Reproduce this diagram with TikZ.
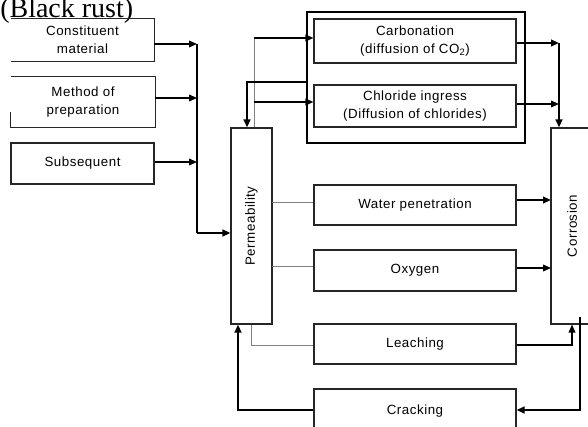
\documentclass[tikz,border=0pt]{standalone}
\usepackage{fontspec}
\setmainfont{Liberation Sans}[LetterSpace=4]
\newfontfamily\serifrm{Liberation Serif}
\usetikzlibrary{arrows.meta}
\begin{document}
\begin{tikzpicture}[x=0.75pt,y=-0.75pt,
  txt/.style={font=\fontsize{10}{13.5}\selectfont},
  box/.style={draw=black!85,line width=0.8pt,minimum width=#1,inner sep=0pt,align=center,txt},
  box/.default={202*0.75pt},
  plainbox/.style={inner sep=0pt,align=center,txt},
  vbox/.style={draw=black!85,line width=0.8pt,inner sep=0pt,minimum width=196*0.75pt,
    minimum height=#1,rotate=90,txt},
  arr/.style={line width=1.1pt,-{Triangle[length=6pt,width=5pt]}},
  thickarr/.style={line width=1.9pt,-{Triangle[length=6pt,width=5pt]}},
  bus/.style={line width=0.8pt},
  gline/.style={draw=black!50,line width=0.75pt},
  edge/.style={draw=black!85,line width=0.8pt}]
\useasboundingbox (0,0) rectangle (588,427);

% title (cut off at the top, as in the reference)
\node[font=\serifrm\fontsize{21}{24}\selectfont,anchor=base west,inner sep=0pt] (title) at (0,18) {(Black rust)};

% left input boxes
\node[plainbox,minimum width=143*0.75pt,minimum height=42*0.75pt] (const) at (82.5,40) {Constituent\\material};
\draw[edge] (const.north west) -- (const.north east) -- (const.south east) -- (const.south west);
\node[plainbox,minimum width=144*0.75pt,minimum height=50*0.75pt] (method) at (83,102) {Method of\\preparation};
\draw[edge] (method.north west) -- (method.north east) -- (method.south east) -- (method.south west) -- ++(0,-15);
\node[box=143*0.75pt,minimum height=41*0.75pt] (subseq) at (82.5,163.5) {Subsequent};

% permeability and corrosion (rotated: east = top, west = bottom, north = left)
\node[vbox=41*0.75pt] (perm) at (251.5,226) {Permeability};
\node[vbox=42*0.75pt] (corr) at (572,226) {Corrosion};

% group box
\node[draw=black,line width=0.8pt,minimum width=218*0.75pt,minimum height=131*0.75pt,inner sep=0pt] (outer) at (416,77.5) {};
\node[box,minimum height=44*0.75pt] (carb) at (415,41) {Carbonation\\(diffusion of CO\textsubscript{2})};
\node[box,minimum height=42*0.75pt] (chlor) at (415,106) {Chloride ingress\\(Diffusion of chlorides)};

% middle boxes
\node[box,minimum height=40*0.75pt] (water) at (415,205) {Water penetration};
\node[box,minimum height=41*0.75pt] (oxygen) at (415,270.5) {Oxygen};
\node[box,minimum height=40*0.75pt] (leach) at (415,344) {Leaching};
\node[box,minimum height=44*0.75pt] (crack) at (415,411) {Cracking};

% inputs to permeability
\coordinate (b1) at (197,44);
\coordinate (b2) at (197,98);
\coordinate (b3) at (197,162);
\coordinate (b4) at (197,233);
\draw[arr] (const.east |- b1) -- (b1);
\draw[arr] (method.east |- b2) -- (b2);
\draw[arr] (subseq.east |- b3) -- (b3);
\draw[bus] (b1) -- (b4);
\draw[thickarr] (b4) -- (b4 -| perm.north);

% permeability to carbonation / chloride
\coordinate (t1) at (254,38);
\coordinate (t2) at (254,102);
\draw[gline] (t1) -- (t1 |- perm.east);
\draw[arr] (t1) -- (t1 -| carb.west);
\draw[arr] (t2) -- (t2 -| chlor.west);

% group back to permeability
\coordinate (g1) at (247,82);
\draw[thickarr] (g1 -| outer.west) -- (g1) -- (g1 |- perm.east);

% group to corrosion
\coordinate (r1) at (559,43);
\coordinate (r2) at (559,104);
\draw[thickarr] (carb.east |- r1) -- (r1);
\draw[thickarr] (r1) -- (r1 |- corr.east);
\draw[arr] (chlor.east |- r2) -- (r2);

% water and oxygen
\coordinate (w1) at (272,203);
\coordinate (w2) at (551,200);
\draw[gline] (w1) -- (w1 -| water.west);
\draw[thickarr] (water.east |- w2) -- (w2);
\coordinate (o1) at (272,267);
\coordinate (o2) at (551,268);
\draw[gline] (o1) -- (o1 -| oxygen.west);
\draw[arr] (oxygen.east |- o2) -- (o2);

% leaching
\coordinate (l1) at (251,345);
\coordinate (l2) at (572,345);
\draw[gline] (l1 |- perm.west) -- (l1) -- (l1 -| leach.west);
\draw[arr] (leach.east |- l2) -- (l2) -- (l2 |- corr.west);

% corrosion to cracking
\coordinate (c1) at (580,317);
\coordinate (c2) at (580,410);
\draw[thickarr] (c1) -- (c2) -- (c2 -| crack.east);

% cracking to permeability
\coordinate (k1) at (238,410);
\draw[thickarr] (crack.west |- k1) -- (k1) -- (k1 |- perm.west);
\end{tikzpicture}
\end{document}
